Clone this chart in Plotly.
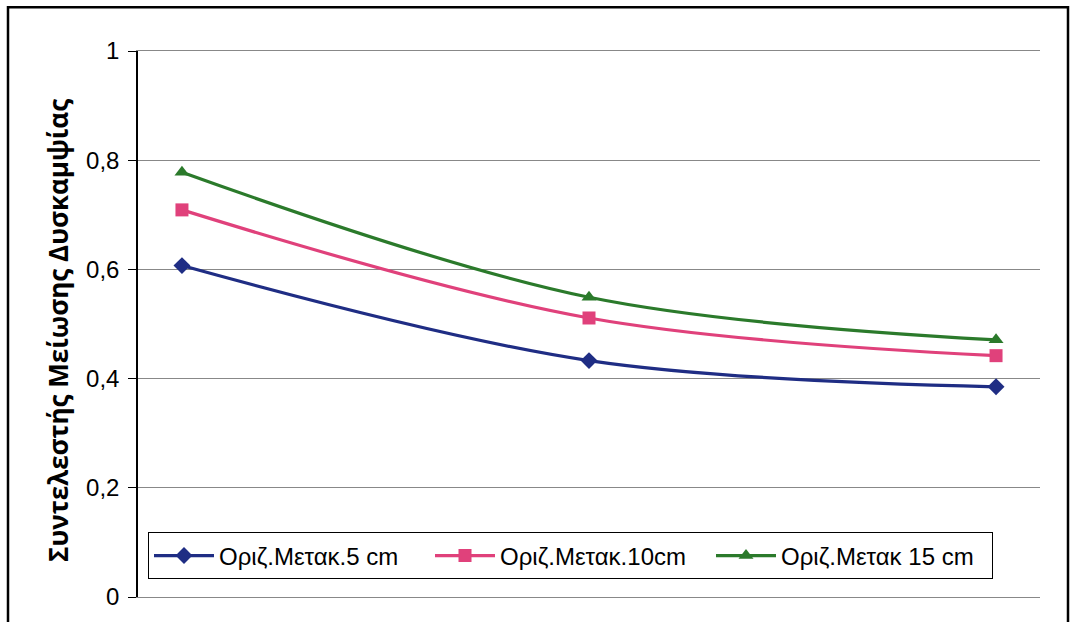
import plotly.graph_objects as go

# Horizontal displacement positions (category index) and stiffness-reduction factors
positions = [0, 1, 2]
series_names = ["Οριζ.Μετακ.5 cm", "Οριζ.Μετακ.10cm", "Οριζ.Μετακ 15 cm"]
disp_5cm = [0.607, 0.433, 0.385]
disp_10cm = [0.709, 0.511, 0.442]
disp_15cm = [0.778, 0.549, 0.471]
y_ticks = [0, 0.2, 0.4, 0.6, 0.8, 1.0]

colors = ["#1f2d84", "#e0417b", "#2b7a2b"]
symbols = ["diamond", "square", "triangle-up"]

fig = go.Figure()
for name, vals, col, sym in zip(series_names, [disp_5cm, disp_10cm, disp_15cm], colors, symbols):
    fig.add_trace(go.Scatter(
        x=positions, y=vals, name=name, mode="lines+markers",
        line=dict(color=col, width=3.2, shape="spline", smoothing=1.0),
        marker=dict(symbol=sym, size=13, color=col),
    ))

W, H = 1075, 622
L, R, T, B = 138, 35, 51, 21
pw, ph = W - L - R, H - T - B

def px_x(p):
    return (p - L) / pw

def px_y(p):
    return (H - B - p) / ph

fig.update_layout(
    width=W, height=H,
    margin=dict(l=L, r=R, t=T, b=B),
    paper_bgcolor="white", plot_bgcolor="white",
    separators=",.",
    font=dict(family="Liberation Sans, Arial, sans-serif", size=24, color="black"),
    showlegend=True,
    legend=dict(
        orientation="h", x=px_x(148), y=px_y(536), xanchor="left", yanchor="top",
        bordercolor="black", borderwidth=1, bgcolor="white",
        font=dict(size=24), itemwidth=60, entrywidth=206, entrywidthmode="pixels",
        traceorder="normal",
    ),
    xaxis=dict(
        range=[-0.108, 2.108], showticklabels=False, showgrid=False,
        zeroline=False, showline=True, linecolor="#888888", linewidth=1, mirror=True,
        ticks="",
    ),
    yaxis=dict(
        range=[0, 1], tickvals=y_ticks, showgrid=True, gridcolor="#888888", gridwidth=1,
        zeroline=False, showline=True, linecolor="black", linewidth=1.5,
        ticks="outside", ticklen=8, tickcolor="black", tickfont=dict(size=24),
        ticklabelstandoff=4,
    ),
    annotations=[dict(
        text="<b>Συντελεστής Μείωσης Δυσκαμψίας</b>", textangle=-90,
        xref="paper", yref="paper", x=px_x(58), y=px_y(333),
        xanchor="center", yanchor="middle", showarrow=False,
        font=dict(family="Open Sans, Noto Sans, sans-serif", size=26, color="black"),
    )],
    shapes=[dict(
        type="rect", xref="paper", yref="paper",
        x0=px_x(8), x1=px_x(1068), y0=px_y(640), y1=px_y(7),
        line=dict(color="black", width=2.5), layer="below",
    )],
)

fig.write_html("out.html")
